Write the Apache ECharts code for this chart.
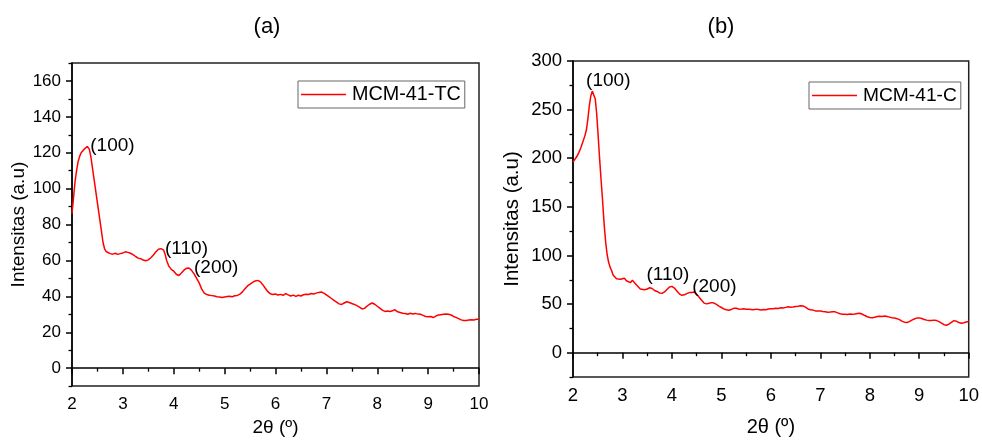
<!DOCTYPE html>
<html>
<head>
<meta charset="utf-8">
<script src="https://cdn.jsdelivr.net/npm/echarts@6/dist/echarts.min.js"></script>
<style>
  html, body { margin: 0; padding: 0; background: #fff; }
  #chart { width: 982px; height: 442px; }
</style>
</head>
<body>
<div id="chart"></div>
<script>
// XRD patterns (low angle) of the two MCM-41 samples
const seriesNames = ['MCM-41-TC', 'MCM-41-C'];

const twoThetaTC = [
  2.00, 2.03, 2.06, 2.09, 2.12, 2.15, 2.18, 2.21, 2.24, 2.27, 2.30, 2.32, 2.34, 2.37, 2.40, 2.43, 2.46, 2.49, 2.52, 2.55,
  2.58, 2.61, 2.64, 2.67, 2.70, 2.75, 2.80, 2.85, 2.90, 2.95, 3.00, 3.05, 3.10, 3.15, 3.20, 3.25, 3.30, 3.35, 3.40, 3.45,
  3.50, 3.55, 3.60, 3.65, 3.70, 3.75, 3.80, 3.83, 3.86, 3.90, 3.95, 4.00, 4.05, 4.10, 4.15, 4.20, 4.25, 4.30, 4.35, 4.40,
  4.45, 4.50, 4.55, 4.60, 4.65, 4.70, 4.75, 4.80, 4.85, 4.90, 4.95, 5.00, 5.05, 5.10, 5.15, 5.20, 5.25, 5.30, 5.35, 5.40,
  5.45, 5.50, 5.55, 5.60, 5.65, 5.70, 5.75, 5.80, 5.85, 5.90, 5.95, 6.00, 6.05, 6.10, 6.15, 6.20, 6.25, 6.30, 6.35, 6.40,
  6.45, 6.50, 6.55, 6.60, 6.65, 6.70, 6.75, 6.80, 6.85, 6.90, 6.95, 7.00, 7.05, 7.10, 7.15, 7.20, 7.25, 7.30, 7.35, 7.40,
  7.45, 7.50, 7.55, 7.60, 7.65, 7.70, 7.75, 7.80, 7.85, 7.90, 7.95, 8.00, 8.05, 8.10, 8.15, 8.20, 8.25, 8.30, 8.35, 8.40,
  8.45, 8.50, 8.55, 8.60, 8.65, 8.70, 8.75, 8.80, 8.85, 8.90, 8.95, 9.00, 9.05, 9.10, 9.15, 9.20, 9.25, 9.30, 9.35, 9.40,
  9.45, 9.50, 9.55, 9.60, 9.65, 9.70, 9.75, 9.80, 9.85, 9.90, 9.95, 10.00
];
const intensityTC = [
  86, 95, 104, 110, 115, 118, 120, 121, 122, 122.5, 123.5, 123.8, 122, 118, 112, 106, 100, 94, 88, 82,
  76, 70, 66.5, 65, 64.2, 63.8, 63.5, 64, 63.4, 63.8, 64.2, 64.8, 64.5, 64, 63.2, 62.2, 61.3, 61, 60.2, 59.8,
  60.3, 61.5, 63, 64.8, 66.2, 66.6, 65.8, 63.5, 60, 57, 55, 54, 52.3, 51.6, 53, 54.6, 55.6, 55.8, 54.5, 52.5,
  50, 47.5, 44, 41.8, 41, 40.6, 40.4, 40.2, 39.8, 39.6, 39.3, 39.6, 39.9, 40.1, 39.8, 40.3, 40.5, 41.2, 42.5, 44.2,
  45.8, 46.8, 47.8, 48.6, 48.9, 48.2, 46.5, 44.5, 42.6, 41.4, 41, 41.3, 40.7, 41.1, 40.6, 41.5, 40.8, 40.2, 40.7, 40,
  40.6, 40.2, 40.9, 41.2, 41, 41.6, 41.3, 41.8, 42.2, 42.4, 41.8, 40.8, 39.8, 38.8, 37.8, 36.8, 35.8, 35.5, 36.3, 37,
  36.6, 36, 35.5, 34.8, 34, 33, 33.3, 34.6, 35.6, 36.3, 35.6, 34.5, 33.4, 32.3, 31.6, 31.8, 31.6, 32, 32.5, 31.4,
  31, 30.6, 30.4, 30, 30.6, 30.2, 30.5, 30.1, 30, 29.4, 28.8, 28.6, 28.8, 28.2, 29, 29.6, 29.8, 30, 30.2, 30,
  29.6, 28.8, 28.3, 27.6, 26.9, 26.5, 26.6, 26.8, 27, 26.8, 27.2, 27.3
];

const twoThetaC = [
  2.00, 2.04, 2.08, 2.12, 2.16, 2.20, 2.24, 2.27, 2.30, 2.33, 2.36, 2.39, 2.42, 2.45, 2.48, 2.51, 2.54, 2.57, 2.60, 2.63,
  2.66, 2.69, 2.72, 2.75, 2.78, 2.81, 2.84, 2.88, 2.92, 2.96, 3.00, 3.04, 3.08, 3.12, 3.16, 3.20, 3.24, 3.28, 3.32, 3.36,
  3.40, 3.45, 3.50, 3.55, 3.60, 3.65, 3.70, 3.75, 3.80, 3.85, 3.90, 3.95, 4.00, 4.05, 4.10, 4.15, 4.20, 4.25, 4.30, 4.35,
  4.40, 4.45, 4.50, 4.55, 4.60, 4.65, 4.70, 4.75, 4.80, 4.85, 4.90, 4.95, 5.00, 5.05, 5.10, 5.15, 5.20, 5.25, 5.30, 5.35,
  5.40, 5.45, 5.50, 5.55, 5.60, 5.65, 5.70, 5.75, 5.80, 5.85, 5.90, 5.95, 6.00, 6.05, 6.10, 6.15, 6.20, 6.25, 6.30, 6.35,
  6.40, 6.45, 6.50, 6.55, 6.60, 6.65, 6.70, 6.75, 6.80, 6.85, 6.90, 6.95, 7.00, 7.05, 7.10, 7.15, 7.20, 7.25, 7.30, 7.35,
  7.40, 7.45, 7.50, 7.55, 7.60, 7.65, 7.70, 7.75, 7.80, 7.85, 7.90, 7.95, 8.00, 8.05, 8.10, 8.15, 8.20, 8.25, 8.30, 8.35,
  8.40, 8.45, 8.50, 8.55, 8.60, 8.65, 8.70, 8.75, 8.80, 8.85, 8.90, 8.95, 9.00, 9.05, 9.10, 9.15, 9.20, 9.25, 9.30, 9.35,
  9.40, 9.45, 9.50, 9.55, 9.60, 9.65, 9.70, 9.75, 9.80, 9.85, 9.90, 9.95, 10.00
];
const intensityC = [
  196, 198, 202, 206, 211, 217, 223, 229, 240, 254, 264, 269, 268, 261, 245, 222, 198, 176, 155, 132,
  114, 101, 93, 88, 84.5, 80, 78, 76, 75, 75.5, 74.5, 76.5, 74, 73, 72, 74.5, 72.5, 70, 68, 65.5,
  64.5, 64.8, 65.5, 66.8, 66, 64, 63, 61.5, 61, 62.5, 65, 67.5, 68.2, 66.5, 63.5, 60.5, 59, 59.5, 60.8, 61.8,
  62, 62.5, 60, 57, 54, 51, 50.2, 50.8, 51.5, 51, 49.6, 48, 46.5, 45, 44.2, 43.6, 44.5, 45.6, 45.8, 45,
  44.8, 45.2, 44.6, 44.8, 44.5, 44.1, 44.8, 44.4, 44, 44.5, 44.2, 45, 45.3, 45.1, 45.8, 45.5, 46.2, 46, 46.6, 47.3,
  46.8, 47, 47.5, 47.8, 48.2, 48, 46.8, 45, 44.2, 43.8, 43, 42.8, 43, 42.3, 42, 41.6, 41.8, 42.2, 42, 41,
  40, 39.6, 39.5, 39.2, 39.8, 39.5, 39.8, 40.2, 40.6, 39.5, 38.2, 37, 36.2, 36, 36.4, 37.3, 37.6, 37.3, 37.8, 37.2,
  36.6, 36, 35.6, 35, 34, 32.5, 31.4, 31, 32, 33.5, 34.6, 35.6, 35.8, 35.2, 34.2, 33.5, 33, 33.2, 33.5, 33,
  32, 30.4, 28.8, 28.2, 29.4, 31.2, 33, 32.4, 31, 30.2, 30.8, 31.6, 32
];

// Reflection labels: [2θ, intensity, text]
const peaksTC = [[2.32, 123.8, '(100)'], [3.75, 66.6, '(110)'], [4.30, 55.8, '(200)']];
const peaksC = [[2.39, 269, '(100)'], [4.00, 68.2, '(110)'], [4.45, 62.5, '(200)']];

// Tick positions
const yTicksTC = [0, 20, 40, 60, 80, 100, 120, 140, 160];
const yMinorTC = [-10, 10, 30, 50, 70, 90, 110, 130, 150, 170];
const yTicksC = [0, 50, 100, 150, 200, 250, 300];
const yMinorC = [-25, 25, 75, 125, 175, 225, 275];

const FONT = "'Liberation Sans', Arial, sans-serif";
const RED = '#ff0000';

function pairs(xs, ys) { return xs.map((x, i) => [x, ys[i]]); }

function xAxisFor(grid, labelSize, labelMargin, nameGap, nameSize) {
  return {
    type: 'value', gridIndex: grid, min: 2, max: 10, interval: 1,
    axisLine: { show: true, lineStyle: { color: '#000', width: 1.5 } },
    axisTick: { show: true, length: 6, lineStyle: { color: '#000', width: 1.5 } },
    minorTick: { show: true, splitNumber: 2, length: 3.5, lineStyle: { color: '#000', width: 1.3 } },
    axisLabel: { color: '#000', fontSize: labelSize, fontFamily: FONT, margin: labelMargin },
    splitLine: { show: false },
    name: '2θ (º)', nameLocation: 'middle', nameGap: nameGap,
    nameTextStyle: { color: '#000', fontSize: nameSize, fontFamily: FONT }
  };
}

function yAxesFor(grid, min, max, majors, minors, labelSize, nameGap, nameSize, namePad) {
  return [{
    type: 'value', gridIndex: grid, min: min, max: max, position: 'left',
    axisLine: { show: true, lineStyle: { color: '#000', width: 1.5 } },
    axisTick: { show: true, length: 6, customValues: majors, lineStyle: { color: '#000', width: 1.5 } },
    axisLabel: { color: '#000', fontSize: labelSize, fontFamily: FONT, margin: 11, customValues: majors },
    splitLine: { show: false },
    name: 'Intensitas (a.u)', nameLocation: 'middle', nameGap: nameGap,
    nameTextStyle: { color: '#000', fontSize: nameSize, fontFamily: FONT, padding: namePad }
  }, {
    type: 'value', gridIndex: grid, min: min, max: max, position: 'left', offset: 0,
    axisLine: { show: false },
    axisTick: { show: true, length: 3.5, customValues: minors, lineStyle: { color: '#000', width: 1.3 } },
    axisLabel: { show: false },
    splitLine: { show: false }
  }];
}

function peakMarks(peaks, placements) {
  return {
    symbol: 'circle', symbolSize: 0, silent: true,
    itemStyle: { color: 'transparent' },
    data: peaks.map((p, i) => ({
      coord: [p[0], p[1]],
      value: p[2],
      label: Object.assign({
        show: true, formatter: p[2], color: '#000', fontSize: 19, fontFamily: FONT
      }, placements[i])
    }))
  };
}

function legendFor(name, left, top, size) {
  return {
    data: [name], left: left, top: top, orient: 'horizontal',
    icon: 'rect', itemWidth: 45, itemHeight: 1.6, itemGap: 0,
    itemStyle: { color: RED, borderWidth: 0 },
    lineStyle: { width: 0 },
    borderColor: '#666', borderWidth: 1, padding: [3, 4, 3, 3],
    textStyle: { color: '#000', fontSize: size, fontFamily: FONT, padding: [0, 0, 0, 1], lineHeight: 21 }
  };
}

const yA = yAxesFor(0, -10, 170, yTicksTC, yMinorTC, 17, 42, 19, [0, 0, 0, 0]);
const yB = yAxesFor(1, -25, 300, yTicksC, yMinorC, 18.5, 50, 20.5, [0, 0, 0, 0]);

const option = {
  animation: false,
  backgroundColor: '#fff',
  textStyle: { fontFamily: FONT },
  graphic: [
    { type: 'text', x: 267, y: 27, style: { text: '(a)', fill: '#000', font: '22px ' + FONT, textAlign: 'center', textVerticalAlign: 'middle' } },
    { type: 'text', x: 721, y: 27, style: { text: '(b)', fill: '#000', font: '22px ' + FONT, textAlign: 'center', textVerticalAlign: 'middle' } }
  ],
  grid: [
    { left: 72, top: 63, width: 407, height: 330, show: true, borderColor: '#222', borderWidth: 1.5, backgroundColor: 'transparent' },
    { left: 573, top: 61, width: 397, height: 321, show: true, borderColor: '#222', borderWidth: 1.5, backgroundColor: 'transparent' }
  ],
  legend: [
    legendFor(seriesNames[0], 298, 81, 19.8),
    legendFor(seriesNames[1], 809, 82, 19.2)
  ],
  xAxis: [xAxisFor(0, 17, 10, 29, 19), xAxisFor(1, 18.5, 9, 40, 20)],
  yAxis: [yA[0], yA[1], yB[0], yB[1]],
  series: [
    {
      name: seriesNames[0], type: 'line', xAxisIndex: 0, yAxisIndex: 0,
      data: pairs(twoThetaTC, intensityTC),
      symbol: 'none', smooth: false,
      lineStyle: { color: RED, width: 1.5 }, itemStyle: { color: RED },
      markPoint: peakMarks(peaksTC, [
        { position: 'right', distance: 2 },
        { position: 'right', distance: 4 },
        { position: 'right', distance: 5 }
      ])
    },
    {
      name: seriesNames[1], type: 'line', xAxisIndex: 1, yAxisIndex: 2,
      data: pairs(twoThetaC, intensityC),
      symbol: 'none', smooth: false,
      lineStyle: { color: RED, width: 1.5 }, itemStyle: { color: RED },
      markPoint: peakMarks(peaksC, [
        { position: 'top', distance: 1, offset: [16, 0] },
        { position: 'top', distance: 2, offset: [-4, 0] },
        { position: 'right', distance: 5, offset: [-7, -5] }
      ])
    }
  ]
};

const chart = echarts.init(document.getElementById('chart'), null, { renderer: 'canvas' });
chart.setOption(option);
</script>
</body>
</html>
